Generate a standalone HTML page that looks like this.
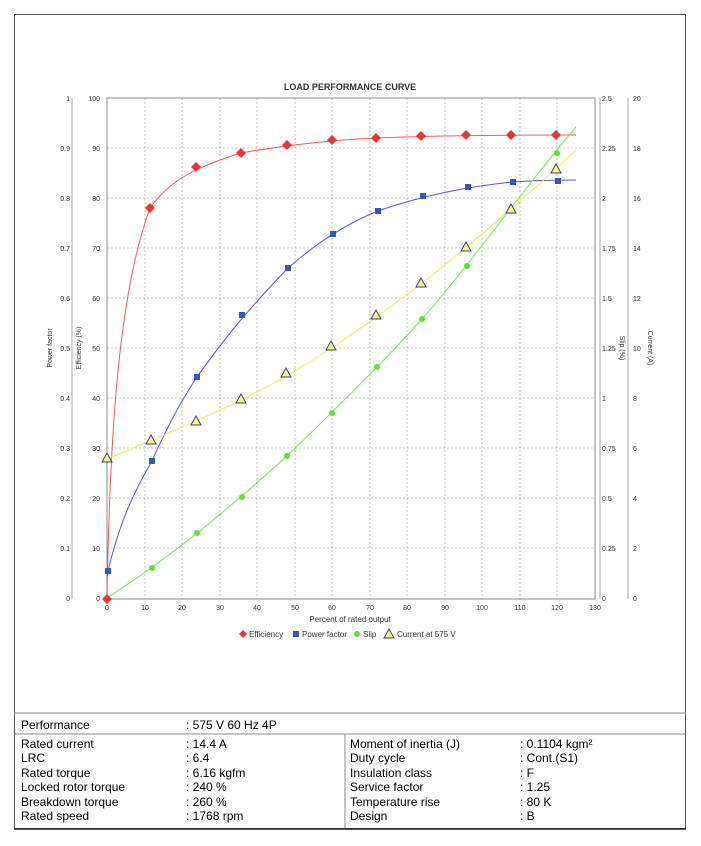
<!DOCTYPE html>
<html><head><meta charset="utf-8"><style>
body{margin:0;background:#fff;font-family:"Liberation Sans",sans-serif;}
#f{position:absolute;left:14px;top:14px;width:672px;height:815px;border:1px solid #555;box-sizing:border-box;}
.t{position:absolute;font-size:12px;color:#000;}
</style></head><body>
<div id="f"></div>
<svg width="701" height="846" style="position:absolute;left:0;top:0" font-family="Liberation Sans, sans-serif">
<text x="350" y="90" font-size="9" text-anchor="middle" font-weight="bold" fill="#333">LOAD PERFORMANCE CURVE</text>
<g stroke="#999" stroke-width="0.6" stroke-dasharray="2,2">
<line x1="145" y1="98" x2="145" y2="599"/><line x1="182" y1="98" x2="182" y2="599"/><line x1="220" y1="98" x2="220" y2="599"/><line x1="257" y1="98" x2="257" y2="599"/><line x1="295" y1="98" x2="295" y2="599"/><line x1="332" y1="98" x2="332" y2="599"/><line x1="370" y1="98" x2="370" y2="599"/><line x1="407" y1="98" x2="407" y2="599"/><line x1="445" y1="98" x2="445" y2="599"/><line x1="482" y1="98" x2="482" y2="599"/><line x1="520" y1="98" x2="520" y2="599"/><line x1="557" y1="98" x2="557" y2="599"/>
<line x1="107" y1="148" x2="595" y2="148"/><line x1="107" y1="198" x2="595" y2="198"/><line x1="107" y1="248" x2="595" y2="248"/><line x1="107" y1="298" x2="595" y2="298"/><line x1="107" y1="348" x2="595" y2="348"/><line x1="107" y1="398" x2="595" y2="398"/><line x1="107" y1="448" x2="595" y2="448"/><line x1="107" y1="498" x2="595" y2="498"/><line x1="107" y1="548" x2="595" y2="548"/>
</g>
<rect x="107" y="98" width="488" height="501" fill="none" stroke="#888" stroke-width="1"/>
<g stroke="#aaa" stroke-width="1"><line x1="72" y1="98" x2="72" y2="599"/><line x1="600" y1="98" x2="600" y2="599"/><line x1="628" y1="98" x2="628" y2="599"/></g>
<g font-size="7" fill="#333">
<g text-anchor="end">
<text x="70" y="101">1</text><text x="70" y="151">0.9</text><text x="70" y="201">0.8</text><text x="70" y="251">0.7</text><text x="70" y="301">0.6</text><text x="70" y="351">0.5</text><text x="70" y="401">0.4</text><text x="70" y="451">0.3</text><text x="70" y="501">0.2</text><text x="70" y="551">0.1</text><text x="70" y="601">0</text>
<text x="100" y="101">100</text><text x="100" y="151">90</text><text x="100" y="201">80</text><text x="100" y="251">70</text><text x="100" y="301">60</text><text x="100" y="351">50</text><text x="100" y="401">40</text><text x="100" y="451">30</text><text x="100" y="501">20</text><text x="100" y="551">10</text><text x="100" y="601">0</text>
</g>
<text x="602" y="101">2.5</text><text x="602" y="151">2.25</text><text x="602" y="201">2</text><text x="602" y="251">1.75</text><text x="602" y="301">1.5</text><text x="602" y="351">1.25</text><text x="602" y="401">1</text><text x="602" y="451">0.75</text><text x="602" y="501">0.5</text><text x="602" y="551">0.25</text><text x="602" y="601">0</text>
<text x="633" y="101">20</text><text x="633" y="151">18</text><text x="633" y="201">16</text><text x="633" y="251">14</text><text x="633" y="301">12</text><text x="633" y="351">10</text><text x="633" y="401">8</text><text x="633" y="451">6</text><text x="633" y="501">4</text><text x="633" y="551">2</text><text x="633" y="601">0</text>
<g text-anchor="middle">
<text x="107" y="610">0</text><text x="145" y="610">10</text><text x="182" y="610">20</text><text x="220" y="610">30</text><text x="257" y="610">40</text><text x="295" y="610">50</text><text x="332" y="610">60</text><text x="370" y="610">70</text><text x="407" y="610">80</text><text x="445" y="610">90</text><text x="482" y="610">100</text><text x="520" y="610">110</text><text x="557" y="610">120</text><text x="595" y="610">130</text>
<text x="350" y="622" font-size="8">Percent of rated output</text>
</g>
<text transform="translate(52,348) rotate(-90)" text-anchor="middle">Power factor</text>
<text transform="translate(81,348) rotate(-90)" text-anchor="middle">Efficiency (%)</text>
<text transform="translate(620,348) rotate(90)" text-anchor="middle">Slip (%)</text>
<text transform="translate(648,348) rotate(90)" text-anchor="middle">Current (A)</text>
</g>
<g fill="none" stroke-width="1">
<path stroke="#ff5555" d="M107,599 C110,420 120,290 150,208 C170,180 196,167 241,153 C287,145 332,140 376,138 C421,136 500,135 576,135"/>
<path stroke="#5555ee" d="M107,575 C120,520 135,490 152,461 C170,420 185,395 197,377 C220,345 240,318 288,268 C320,240 350,222 378,211 C420,196 470,186 513,182 C540,180 560,180 576,180"/>
<path stroke="#66ee44" d="M107,598 C150,570 200,535 287,456 C340,405 390,355 422,319 C470,265 530,180 576,127"/>
<path stroke="#eeee44" d="M107,459 C150,441 196,422 241,400 C300,372 360,330 421,284 C470,245 520,203 576,150"/>
</g>
<g fill="#ee3333">
<path d="M107,594 l5,5 -5,5 -5,-5z"/><path d="M150,203 l5,5 -5,5 -5,-5z"/><path d="M196,162 l5,5 -5,5 -5,-5z"/><path d="M241,148 l5,5 -5,5 -5,-5z"/><path d="M287,140 l5,5 -5,5 -5,-5z"/><path d="M332,135 l5,5 -5,5 -5,-5z"/><path d="M376,133 l5,5 -5,5 -5,-5z"/><path d="M421,131 l5,5 -5,5 -5,-5z"/><path d="M466,130 l5,5 -5,5 -5,-5z"/><path d="M511,130 l5,5 -5,5 -5,-5z"/><path d="M556,130 l5,5 -5,5 -5,-5z"/>
</g>
<g fill="#3355cc">
<rect x="105" y="568" width="6" height="6"/><rect x="149" y="458" width="6" height="6"/><rect x="194" y="374" width="6" height="6"/><rect x="239" y="312" width="6" height="6"/><rect x="285" y="265" width="6" height="6"/><rect x="330" y="231" width="6" height="6"/><rect x="375" y="208" width="6" height="6"/><rect x="420" y="193" width="6" height="6"/><rect x="465" y="184" width="6" height="6"/><rect x="510" y="179" width="6" height="6"/><rect x="555" y="178" width="6" height="6"/>
</g>
<g fill="#66dd33">
<circle cx="152" cy="568" r="3"/><circle cx="197" cy="533" r="3"/><circle cx="242" cy="497" r="3"/><circle cx="287" cy="456" r="3"/><circle cx="332" cy="413" r="3"/><circle cx="377" cy="367" r="3"/><circle cx="422" cy="319" r="3"/><circle cx="467" cy="266" r="3"/><circle cx="512" cy="211" r="3"/><circle cx="557" cy="153" r="3"/>
</g>
<g fill="#ffff55" stroke="#3333cc" stroke-width="1">
<path d="M107,453 l5,9 -10,0z"/><path d="M151,435 l5,9 -10,0z"/><path d="M196,416 l5,9 -10,0z"/><path d="M241,394 l5,9 -10,0z"/><path d="M286,368 l5,9 -10,0z"/><path d="M331,341 l5,9 -10,0z"/><path d="M376,310 l5,9 -10,0z"/><path d="M421,278 l5,9 -10,0z"/><path d="M466,242 l5,9 -10,0z"/><path d="M511,204 l5,9 -10,0z"/><path d="M556,164 l5,9 -10,0z"/>
</g>
<g font-size="8" fill="#333">
<path d="M243,630 l4,4 -4,4 -4,-4z" fill="#ee3333"/><text x="249" y="637">Efficiency</text>
<rect x="293" y="631" width="6" height="6" fill="#3355cc"/><text x="302" y="637">Power factor</text>
<circle cx="357" cy="634" r="3" fill="#66dd33"/><text x="363" y="637">Slip</text>
<path d="M389,629 l5,9 -10,0z" fill="#ffff55" stroke="#3333cc"/><text x="397" y="637">Current at 575 V</text>
</g>
<g stroke="#888" stroke-width="1">
<line x1="14" y1="713" x2="686" y2="713"/><line x1="14" y1="734" x2="686" y2="734"/><line x1="345" y1="734" x2="345" y2="829"/>
</g>
<line x1="14" y1="829" x2="686" y2="829" stroke="#222" stroke-width="1.5"/>
</svg>
<div class="t" style="left:21px;top:718px">Performance</div><div class="t" style="left:186px;top:718px">: 575 V 60 Hz 4P</div>
<div class="t" style="left:21px;top:737px;line-height:14.4px">Rated current<br>LRC<br>Rated torque<br>Locked rotor torque<br>Breakdown torque<br>Rated speed</div>
<div class="t" style="left:186px;top:737px;line-height:14.4px">: 14.4 A<br>: 6.4<br>: 6.16 kgfm<br>: 240 %<br>: 260 %<br>: 1768 rpm</div>
<div class="t" style="left:350px;top:737px;line-height:14.4px">Moment of inertia (J)<br>Duty cycle<br>Insulation class<br>Service factor<br>Temperature rise<br>Design</div>
<div class="t" style="left:520px;top:737px;line-height:14.4px">: 0.1104 kgm²<br>: Cont.(S1)<br>: F<br>: 1.25<br>: 80 K<br>: B</div>
</body></html>
